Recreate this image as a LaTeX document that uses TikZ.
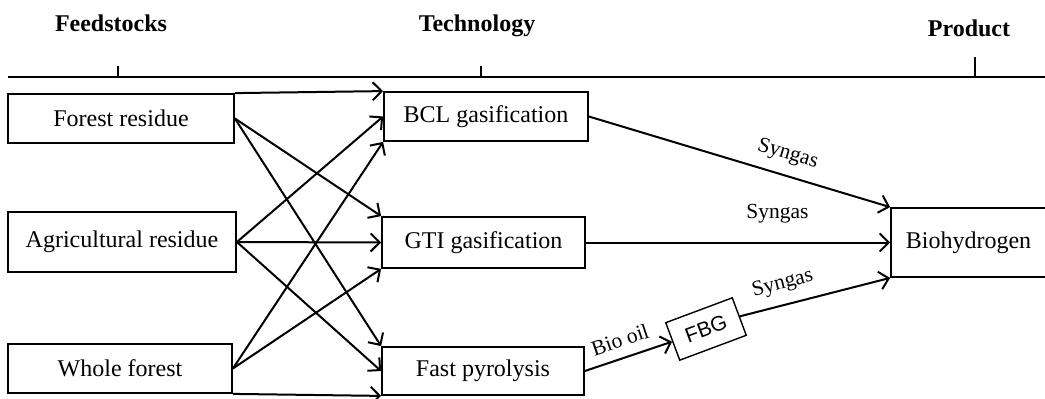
\documentclass[tikz,border=0pt]{standalone}
\usepackage{fontspec}
\setmainfont{Liberation Serif}
\newfontfamily\fbgfont{Liberation Sans}
\usetikzlibrary{arrows.meta}
\begin{document}
\begin{tikzpicture}[x=1pt,y=-1pt,
  box/.style={draw, line width=1.8pt, inner sep=0pt, font=\fontsize{24}{28}\selectfont},
  flow/.style={line width=2pt, -{Straight Barb[length=9pt,width=18pt,line width=2pt]}},
  lbl/.style={font=\fontsize{21.5}{24}\selectfont, inner sep=2pt},
  head/.style={font=\bfseries\fontsize{24}{28}\selectfont, anchor=base, inner sep=0pt},
  axisline/.style={line width=2.2pt},
  tickline/.style={line width=1.8pt}
]
\useasboundingbox (0,0) rectangle (1045,399);
\clip (0,0) rectangle (1045,399);

% header axis
\coordinate (axL) at (8,77);
\coordinate (axR) at (1046,77);
\draw[axisline] (axL) -- (axR);
\coordinate (t1) at (118,66);
\coordinate (t2) at (481,66);
\coordinate (t3) at (975,57);
\draw[tickline] (t1) -- (t1 |- axL);
\draw[tickline] (t2) -- (t2 |- axL);
\draw[tickline] (t3) -- (t3 |- axL);
\node[head] (hf) at (111,31) {Feedstocks};
\node[head] (ht) at (477,31) {Technology};
\node[head] (hp) at (969,36) {Product};

% feedstocks
\node[box, minimum width=226pt, minimum height=49pt] (fr) at (121,118.5) {Forest residue};
\node[box, minimum width=228pt, minimum height=60pt] (ar) at (122,242) {Agricultural residue};
\node[box, minimum width=224pt, minimum height=49pt] (wf) at (120,368.5) {Whole forest};

% technologies
\node[box, minimum width=204pt, minimum height=49pt] (bcl) at (486,116.5) {BCL gasification};
\node[box, minimum width=203pt, minimum height=51pt] (gti) at (483.5,242.5) {GTI gasification};
\node[box, minimum width=202pt, minimum height=48pt] (fp) at (483,371) {Fast pyrolysis};

% product
\node[box, minimum width=155pt, minimum height=69pt] (bio) at (968.5,242.5) {Biohydrogen};

% FBG
\node[draw, line width=1.4pt, rotate=20.5, minimum width=71pt, minimum height=40pt, inner sep=0pt,
      font=\fbgfont\fontsize{21}{24}\selectfont] (fbg) at (706,329) {FBG};

% feedstock -> technology
\draw[flow] (fr.north east) -- (bcl.north west);
\draw[flow] (fr.east) -- (gti.north west);
\draw[flow] (fr.east) -- (fp.north west);
\draw[flow] (ar.east) -- (bcl.west);
\draw[flow] (ar.east) -- (gti.west);
\draw[flow] (ar.east) -- (fp.west);
\draw[flow] (wf.east) -- (bcl.south west);
\draw[flow] (wf.east) -- (gti.south west);
\draw[flow] (wf.south east) -- (fp.south west);

% technology -> product
\draw[flow] (bcl.east) -- node[lbl, sloped, above=8.5pt, pos=0.64] (l1) {Syngas} (bio.north west);
\draw[flow] (gti.east) -- node[lbl, above=16pt, pos=0.63] (l2) {Syngas} (bio.west);
\draw[flow] (fp.east) -- node[lbl, sloped, above=8pt, pos=0.47] (l3) {Bio oil} (fbg.west);
\draw[flow] (fbg.east) -- node[lbl, sloped, above=8.5pt, pos=0.32] (l4) {Syngas} (bio.south west);
\end{tikzpicture}
\end{document}
